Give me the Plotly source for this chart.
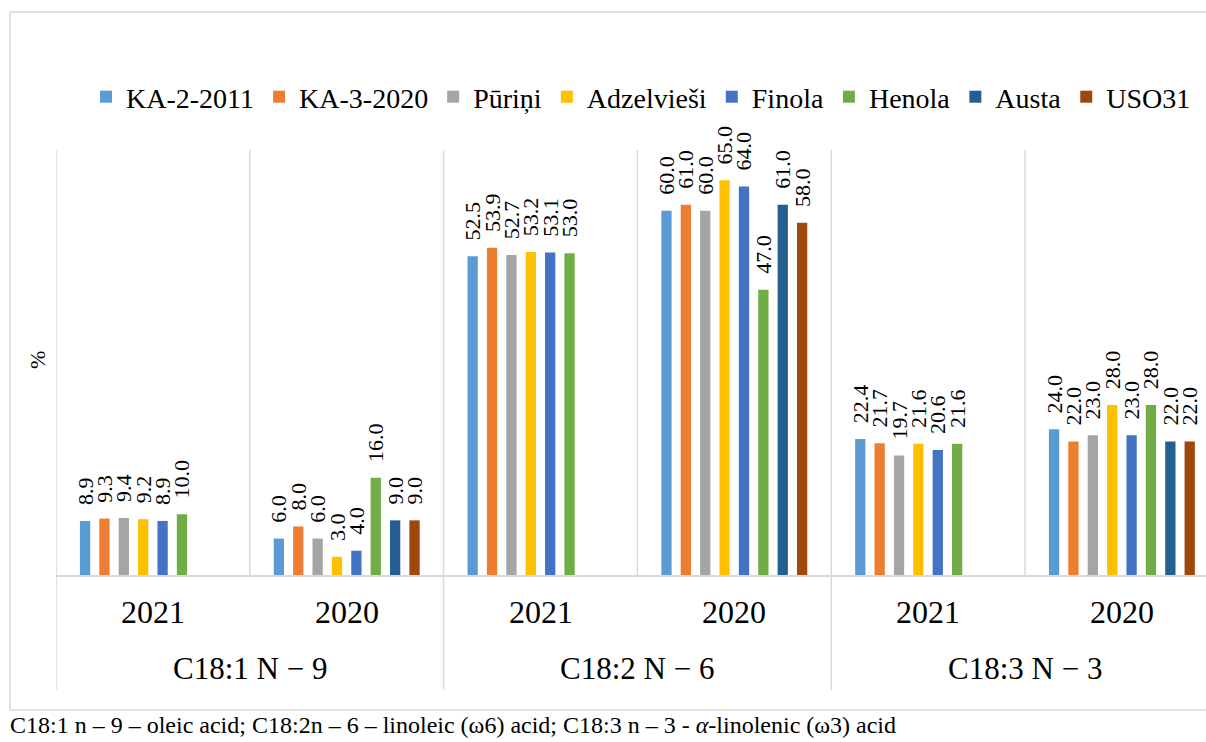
import plotly.graph_objects as go

# ---- data ----
groups = ["C18:1 N − 9", "C18:2 N − 6", "C18:3 N − 3"]
years = ["2021", "2020", "2021", "2020", "2021", "2020"]
series_names = ["KA-2-2011", "KA-3-2020", "Pūriņi", "Adzelvieši", "Finola", "Henola", "Austa", "USO31"]
colors = ["#5B9BD5", "#ED7D31", "#A5A5A5", "#FFC000", "#4472C4", "#70AD47", "#255E91", "#9E480E"]

ka2_2011   = [8.9, 6.0, 52.5, 60.0, 22.4, 24.0]
ka3_2020   = [9.3, 8.0, 53.9, 61.0, 21.7, 22.0]
puurini    = [9.4, 6.0, 52.7, 60.0, 19.7, 23.0]
adzelviesi = [9.2, 3.0, 53.2, 65.0, 21.6, 28.0]
finola     = [8.9, 4.0, 53.1, 64.0, 20.6, 23.0]
henola     = [10.0, 16.0, 53.0, 47.0, 21.6, 28.0]
austa      = [None, 9.0, None, 61.0, None, 22.0]
uso31      = [None, 9.0, None, 58.0, None, 22.0]
values = [ka2_2011, ka3_2020, puurini, adzelviesi, finola, henola, austa, uso31]

footnote = "C18:1 n – 9 – oleic acid; C18:2n – 6 – linoleic (ω6) acid; C18:3 n – 3 - <i>α</i>-linolenic (ω3) acid"

FONT = "Liberation Serif, Times New Roman, serif"
W, H = 1206, 742
ML, MR, MT, MB = 56, 0, 150, 167
PW = W - ML - MR
PH = H - MT - MB
CAT_PX = 193.8
LABEL_PAD = "  \u200a"  # lifts the rotated value labels a little above the bars

def py(p):  # pixel y -> paper y
    return (H - MB - p) / PH

def px(p):  # pixel x -> paper x
    return (p - ML) / PW

x = list(range(len(years)))

fig = go.Figure()
for name, col, vals in zip(series_names, colors, values):
    fig.add_trace(go.Bar(
        x=x, y=vals, name=name,
        marker=dict(color=col, line=dict(width=0)),
        text=[None if v is None else f"{LABEL_PAD}{v:.1f}" for v in vals],
        textposition="outside", textangle=-90,
        constraintext="none", cliponaxis=False,
        textfont=dict(family=FONT, size=22, color="#000000"),
        hoverinfo="skip",
    ))

xmax = -0.5 + PW / CAT_PX

shapes = []
for b in [0.5, 2.5, 4.5]:
    shapes.append(dict(type="line", xref="x", yref="paper", x0=b, x1=b, y0=0, y1=1,
                       line=dict(color="#D9D9D9", width=1.5), layer="below"))
for b in [-0.5, 1.5, 3.5]:
    shapes.append(dict(type="line", xref="x", yref="paper", x0=b, x1=b, y0=py(690), y1=1,
                       line=dict(color="#D9D9D9", width=1.5), layer="below"))
shapes.append(dict(type="rect", xref="paper", yref="paper", x0=px(10), x1=px(1230),
                   y0=py(710), y1=py(12), line=dict(color="#D9D9D9", width=1.5),
                   fillcolor="rgba(0,0,0,0)", layer="below"))

annotations = []
for i, yr in enumerate(years):
    annotations.append(dict(x=i, y=py(612), xref="x", yref="paper", text=yr, showarrow=False,
                            font=dict(family=FONT, size=32, color="#000000"),
                            xanchor="center", yanchor="middle"))
for gi, g in enumerate(groups):
    annotations.append(dict(x=2 * gi + 0.5, y=py(668), xref="x", yref="paper", text=g, showarrow=False,
                            font=dict(family=FONT, size=31, color="#000000"),
                            xanchor="center", yanchor="middle"))
annotations.append(dict(x=px(37), y=py(360), xref="paper", yref="paper", text="%", showarrow=False,
                        textangle=-90, font=dict(family=FONT, size=22, color="#000000"),
                        xanchor="center", yanchor="middle"))
annotations.append(dict(x=px(8), y=py(725), xref="paper", yref="paper", text=footnote, showarrow=False,
                        font=dict(family=FONT, size=24, color="#000000"),
                        xanchor="left", yanchor="middle"))

fig.update_layout(
    width=W, height=H,
    margin=dict(l=ML, r=MR, t=MT, b=MB, pad=0),
    paper_bgcolor="white", plot_bgcolor="white",
    barmode="group", bargap=0.2, bargroupgap=0.47,
    showlegend=True,
    legend=dict(orientation="h", x=px(641), xanchor="center", y=py(97), yanchor="middle",
                font=dict(family=FONT, size=28, color="#000000"),
                itemwidth=30, tracegroupgap=0, bgcolor="rgba(0,0,0,0)"),
    xaxis=dict(range=[-0.5, xmax], showgrid=False, zeroline=False, showticklabels=False,
               ticks="", showline=True, linecolor="#D9D9D9", linewidth=1.5, fixedrange=True),
    yaxis=dict(range=[0, 70], showgrid=False, zeroline=False, showticklabels=False,
               ticks="", showline=False, fixedrange=True),
    shapes=shapes, annotations=annotations,
)

js = """
document.body.style.margin='0px';document.body.style.overflow='hidden';
document.querySelectorAll('.legendtext, .bartext').forEach(function(t){
  t.style.setProperty('font-family', "'Liberation Serif', 'Times New Roman', serif", 'important');
});
"""
fig.write_html("out.html", config={"displayModeBar": False}, post_script=js)
